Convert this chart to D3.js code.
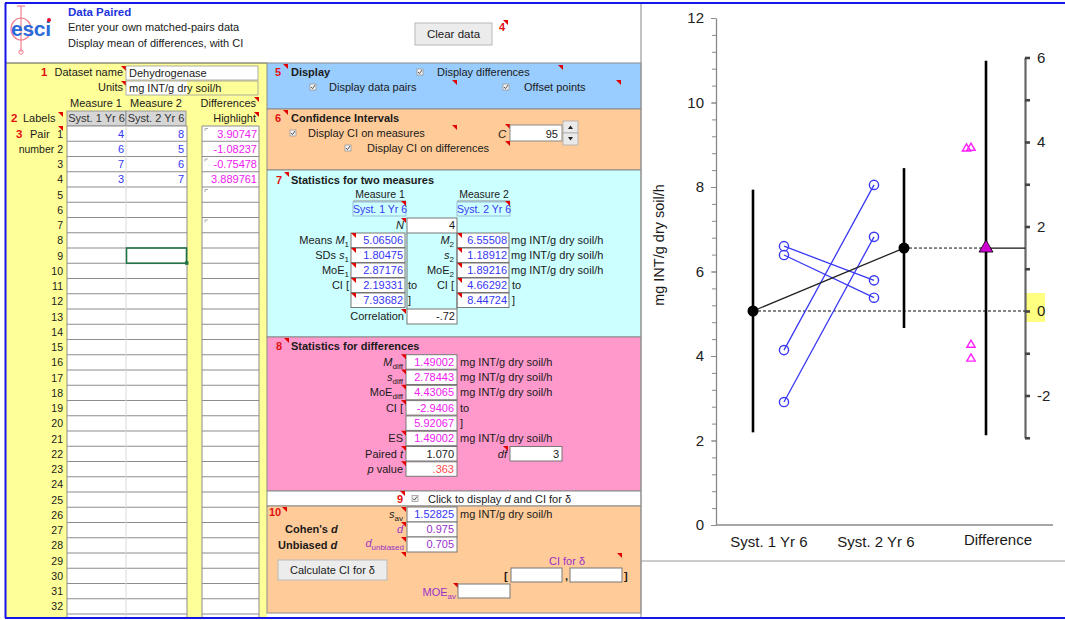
<!DOCTYPE html>
<html>
<head>
<meta charset="utf-8">
<script src="https://cdn.jsdelivr.net/npm/d3@7"></script>
<style>
body { margin: 0; background: #fff; }
svg { display: block; font-family: "Liberation Sans", Arial, sans-serif; }
</style>
</head>
<body>
<svg id="sheet" width="1065" height="620"></svg>
<script>
// ---- data ----
const datasetName = "Dehydrogenase";
const units = "mg INT/g dry soil/h";
const groupLabels = ["Syst. 1 Yr 6", "Syst. 2 Yr 6", "Difference"];

// what the table shows
const measure1Shown = ["4", "6", "7", "3"];
const measure2Shown = ["8", "5", "6", "7"];
const diffShown = ["3.90747", "-1.08237", "-0.75478", "3.889761"];

// plotted pairs
const measure1 = [4.14, 6.39, 6.60, 2.91];
const measure2 = [8.05, 5.38, 5.79, 6.82];
const differences = [3.90747, -1.08237, -0.75478, 3.889761];

const means = [5.06506, 6.55508];
const ciLower = [2.19331, 4.66292];
const ciUpper = [7.93682, 8.44724];
const meanDiff = 1.49002;
const ciDiff = [-2.9406, 5.92067];

const leftTicks = [0, 2, 4, 6, 8, 10, 12];
const rightTicks = [-3, -2, -1, 0, 1, 2, 3, 4, 5, 6];

const m1Stats = ["5.06506", "1.80475", "2.87176", "2.19331", "7.93682"];
const m2Stats = ["6.55508", "1.18912", "1.89216", "4.66292", "8.44724"];
const diffStats = ["1.49002", "2.78443", "4.43065", "-2.9406", "5.92067", "1.49002"];

const svg = d3.select("#sheet");
const RED = "#e31010", BLUE = "#3636f5", MAG = "#f020f0", PURP = "#9b30c8";

function T(g, x, y, s, o = {}) {
  const t = g.append("text").attr("x", x).attr("y", y)
    .attr("font-size", o.size || 11).attr("fill", o.fill || "#1a1a1a")
    .attr("text-anchor", o.anchor || "start");
  if (o.bold) t.attr("font-weight", "bold");
  if (o.italic) t.attr("font-style", "italic");
  if (Array.isArray(s)) {
    s.forEach(p => {
      const ts = t.append("tspan").text(p.t);
      if (p.i) ts.attr("font-style", "italic");
      if (p.sub) ts.attr("font-size", 8).attr("dy", 3);
      if (p.fill) ts.attr("fill", p.fill);
    });
  } else t.text(s);
  return t;
}
function R(g, x, y, w, h, fill, stroke, sw) {
  return g.append("rect").attr("x", x).attr("y", y).attr("width", w).attr("height", h)
    .attr("fill", fill || "none").attr("stroke", stroke || "none").attr("stroke-width", sw || 1);
}
function F(g, x, y) {
  g.append("path").attr("d", `M${x - 5},${y}L${x},${y}L${x},${y + 5}Z`).attr("fill", "#e00000");
}
function CB(g, x, y) {
  R(g, x - 3, y - 3, 6, 6, "#f2f2f2", "#9a9a9a", 0.8);
  g.append("path").attr("d", `M${x - 2},${y}L${x - 0.5},${y + 1.6}L${x + 2},${y - 2}`)
    .attr("fill", "none").attr("stroke", "#444").attr("stroke-width", 0.9);
}
function L(g, x1, y1, x2, y2, c, w) {
  g.append("line").attr("x1", x1).attr("y1", y1).attr("x2", x2).attr("y2", y2)
    .attr("stroke", c || "#8a8a8a").attr("stroke-width", w || 1);
}

// ---- header ----
const head = svg.append("g");
head.append("line").attr("x1", 21).attr("y1", 6).attr("x2", 21).attr("y2", 52).attr("stroke", "#f08090").attr("stroke-width", 1.2);
head.append("line").attr("x1", 17).attr("y1", 6).attr("x2", 25).attr("y2", 6).attr("stroke", "#f08090").attr("stroke-width", 1.2);
head.append("circle").attr("cx", 21).attr("cy", 52).attr("r", 2.2).attr("fill", "none").attr("stroke", "#f08090");
head.append("ellipse").attr("cx", 21).attr("cy", 29).attr("rx", 10).attr("ry", 11).attr("fill", "none").attr("stroke", "#f08090").attr("stroke-width", 1.2);
T(head, 11, 36, "esci", { size: 21, fill: "#2a6ad8", bold: true }).attr("textLength", 40);
head.append("circle").attr("cx", 49).attr("cy", 20).attr("r", 2).attr("fill", "#e8102a");
T(head, 68, 16, "Data Paired", { bold: true, fill: "#2233dd", size: 11.5 });
T(head, 68, 31, "Enter your own matched-pairs data", { size: 11 });
T(head, 68, 47, "Display mean of differences, with CI", { size: 11 });

R(head, 415, 23, 77, 22, "#ececec", "#b8b8b8");
T(head, 453.5, 38, "Clear data", { anchor: "middle", size: 11.5 });
T(head, 499, 31, "4", { fill: RED, bold: true, size: 11 });
F(head, 508, 20);

// ---- left data panel ----
const left = svg.append("g");
R(left, 5, 63, 262, 555, "#ffff99");
L(left, 5, 63, 267, 63, "#555", 1);
T(left, 41, 76, "1", { fill: RED, bold: true, size: 11.5 });
T(left, 123, 76, "Dataset name", { anchor: "end" });
F(left, 126, 66);
R(left, 126, 66, 132, 14, "#fff", "#999", 0.8);
T(left, 129, 77, datasetName);
T(left, 123, 91, "Units", { anchor: "end" });
F(left, 126, 81);
R(left, 126, 81, 61, 14, "#fff");
R(left, 126, 81, 132, 14, "none", "#999", 0.8);
T(left, 129, 92, units);
T(left, 96, 107, "Measure 1", { anchor: "middle" });
T(left, 156, 107, "Measure 2", { anchor: "middle" });
T(left, 256, 107, "Differences", { anchor: "end" });
F(left, 259, 97);
T(left, 11, 122, "2", { fill: RED, bold: true, size: 11.5 });
T(left, 23, 122, "Labels");
F(left, 63, 112);
R(left, 67, 111, 59, 15, "#d6d6d6", "#888", 0.8);
R(left, 126, 111, 60, 15, "#d6d6d6", "#888", 0.8);
T(left, 96.5, 122, groupLabels[0], { anchor: "middle", fill: "#333" });
T(left, 156, 122, groupLabels[1], { anchor: "middle", fill: "#333" });
T(left, 256, 122, "Highlight", { anchor: "end" });
F(left, 259, 112);

const rowTop = n => 126 + (n - 1) * 15.25;
R(left, 67, 126, 120, 492, "#fff");
R(left, 202, 126, 57, 492, "#fff");
d3.range(1, 34).forEach(n => {
  const y0 = rowTop(n);
  L(left, 67, y0, 187, y0, "#8c8c8c", 1.1);
  L(left, 202, y0, 259, y0, "#8c8c8c", 1.1);
  if (n > 32) return;
  const lab = n === 1 ? "1" : n === 2 ? "number 2" : String(n);
  T(left, 63, y0 + 11.5, lab, { anchor: "end", size: 10.5 });
});
L(left, 126, 126, 126, 618, "#d8d8d8", 1);
L(left, 67, 126, 67, 618, "#8c8c8c", 1);
L(left, 187, 126, 187, 618, "#8c8c8c", 1);
L(left, 202, 126, 202, 618, "#8c8c8c", 1);
L(left, 259, 126, 259, 618, "#8c8c8c", 1);
T(left, 16, 137.5, "3", { fill: RED, bold: true, size: 11.5 });
T(left, 30, 137.5, "Pair", { size: 11 });
F(left, 63, 126);
measure1Shown.forEach((v, i) => T(left, 124, rowTop(i + 1) + 11.5, v, { anchor: "end", fill: BLUE }));
measure2Shown.forEach((v, i) => T(left, 184, rowTop(i + 1) + 11.5, v, { anchor: "end", fill: BLUE }));
diffShown.forEach((v, i) => T(left, 257, rowTop(i + 1) + 11.5, v, { anchor: "end", fill: MAG }));
[1, 3, 5, 7].forEach(n => {
  const y0 = rowTop(n);
  left.append("path").attr("d", `M205,${y0 + 5}V${y0 + 2.5}H208`).attr("fill", "none").attr("stroke", "#999").attr("stroke-width", 0.8);
});
R(left, 126.5, rowTop(9), 60, 15.25, "none", "#217346", 1.6);
R(left, 185, rowTop(10) - 2, 3.5, 3.5, "#217346");

// ---- middle panels ----
const mid = svg.append("g");
R(mid, 267, 63, 374, 46, "#99ccff", "#8a8a8a", 1);
R(mid, 267, 109, 374, 61, "#ffcc99", "#8a8a8a", 1);
R(mid, 267, 170, 374, 167, "#ccffff", "#8a8a8a", 1);
R(mid, 267, 337, 374, 154, "#ff99cc", "#8a8a8a", 1);
R(mid, 267, 491, 374, 15, "#ffffff", "#8a8a8a", 1);
R(mid, 267, 506, 374, 107, "#ffcc99", "#8a8a8a", 1);

// panel 5
T(mid, 275, 76, "5", { fill: RED, bold: true });
F(mid, 288, 64);
T(mid, 291, 76, "Display", { bold: true });
CB(mid, 420, 72); T(mid, 437, 76, "Display differences");
F(mid, 563, 65);
CB(mid, 313, 87); T(mid, 329, 91, "Display data pairs");
F(mid, 457, 80);
CB(mid, 506, 87); T(mid, 524, 91, "Offset points");
F(mid, 621, 80);

// panel 6
T(mid, 275, 122, "6", { fill: RED, bold: true });
F(mid, 288, 110);
T(mid, 291, 122, "Confidence Intervals", { bold: true });
CB(mid, 293, 133); T(mid, 308, 137, "Display CI on measures");
F(mid, 457, 125);
T(mid, 498, 138, "C", { italic: true, size: 11.5 });
F(mid, 510, 124);
R(mid, 510, 125, 52, 16, "#fff", "#888");
T(mid, 558, 137.5, "95", { anchor: "end" });
R(mid, 563, 121, 15, 12, "#eaeaea", "#aaa", 0.8);
R(mid, 563, 133, 15, 12, "#eaeaea", "#aaa", 0.8);
mid.append("path").attr("d", "M568,129L570.5,125.5L573,129Z").attr("fill", "#222");
mid.append("path").attr("d", "M568,137L570.5,140.5L573,137Z").attr("fill", "#222");
CB(mid, 348, 148); T(mid, 367, 152, "Display CI on differences");
F(mid, 510, 141);

// panel 7
T(mid, 276, 184, "7", { fill: RED, bold: true });
F(mid, 289, 172);
T(mid, 291, 184, "Statistics for two measures", { bold: true });
T(mid, 380, 198, "Measure 1", { anchor: "middle", size: 10.5 });
T(mid, 484, 198, "Measure 2", { anchor: "middle", size: 10.5 });
L(mid, 353, 201, 406, 201, "#8a8a8a");
L(mid, 457, 201, 510, 201, "#8a8a8a");
R(mid, 353, 202, 53, 14, "#ccffff", "#8fb0d0", 0.8);
R(mid, 457, 202, 53, 14, "#ccffff", "#8fb0d0", 0.8);
T(mid, 380, 213, groupLabels[0], { anchor: "middle", fill: BLUE, size: 10.5 });
T(mid, 484, 213, groupLabels[1], { anchor: "middle", fill: BLUE, size: 10.5 });
F(mid, 406, 201); F(mid, 510, 201);
T(mid, 404, 229, "N", { anchor: "end", italic: true });
F(mid, 406, 218);
R(mid, 407, 218, 50, 15, "#fff", "#777");
T(mid, 455, 229, "4", { anchor: "end" });
const r7 = [240, 255, 270, 285, 300];
const lab7a = [
  [{ t: "Means " }, { t: "M", i: true }, { t: "1", sub: true }],
  [{ t: "SDs " }, { t: "s", i: true }, { t: "1", sub: true }],
  [{ t: "MoE" }, { t: "1", sub: true }],
  [{ t: "CI [" }],
  []
];
const lab7b = [
  [{ t: "M", i: true }, { t: "2", sub: true }],
  [{ t: "s", i: true }, { t: "2", sub: true }],
  [{ t: "MoE" }, { t: "2", sub: true }],
  [{ t: "CI [" }],
  []
];
r7.forEach((cy, i) => {
  T(mid, 349, cy + 4, lab7a[i], { anchor: "end" });
  T(mid, 454, cy + 4, lab7b[i], { anchor: "end" });
  R(mid, 351, cy - 7, 54, 14.5, "#fff", "#777");
  R(mid, 457, cy - 7, 52, 14.5, "#fff", "#777");
  T(mid, 403, cy + 4, m1Stats[i], { anchor: "end", fill: BLUE });
  T(mid, 507, cy + 4, m2Stats[i], { anchor: "end", fill: BLUE });
  F(mid, 356, cy - 7); F(mid, 462, cy - 7);
  if (i < 3) T(mid, 511, cy + 4, units);
  if (i === 3) { T(mid, 408, cy + 4, "to"); T(mid, 512, cy + 4, "to"); }
  if (i === 4) { T(mid, 408, cy + 4, "]"); T(mid, 512, cy + 4, "]"); }
});
L(mid, 407, 233, 407, 309, "#777"); L(mid, 457, 233, 457, 309, "#777");
T(mid, 404, 320, "Correlation", { anchor: "end" });
F(mid, 406, 309);
R(mid, 407, 309, 50, 15, "#fff", "#777");
T(mid, 455, 320, "-.72", { anchor: "end" });

// panel 8
T(mid, 276, 350, "8", { fill: RED, bold: true });
F(mid, 289, 338);
T(mid, 291, 350, "Statistics for differences", { bold: true });
const lab8 = [
  [{ t: "M", i: true }, { t: "diff", sub: true }],
  [{ t: "s", i: true }, { t: "diff", sub: true }],
  [{ t: "MoE" }, { t: "diff", sub: true }],
  [{ t: "CI [" }],
  [],
  [{ t: "ES" }],
  [{ t: "Paired " }, { t: "t", i: true }],
  [{ t: "p", i: true }, { t: " value" }]
];
d3.range(8).forEach(i => {
  const cy = 361.7 + i * 15.3;
  T(mid, 403, cy + 4, lab8[i], { anchor: "end" });
  R(mid, 406, cy - 7, 51, 14.5, "#fff", "#777");
  if (i !== 4) F(mid, 406, cy - 7.5);
  let v, c = MAG;
  if (i < 6) v = diffStats[i];
  else if (i === 6) { v = "1.070"; c = "#1a1a1a"; }
  else { v = ".363"; c = "#ff4a4a"; }
  T(mid, 454, cy + 4, v, { anchor: "end", fill: c });
  if ([0, 1, 2, 5].includes(i)) T(mid, 460, cy + 4, units);
  if (i === 3) T(mid, 460, cy + 4, "to");
  if (i === 4) T(mid, 460, cy + 4, "]");
  if (i === 6) {
    T(mid, 507, cy + 4, "df", { anchor: "end", italic: true });
    F(mid, 508, cy - 7.5);
    R(mid, 510, cy - 7, 52, 14.5, "#fff", "#777");
    T(mid, 559, cy + 4, "3", { anchor: "end" });
  }
});

// panel 9
T(mid, 397, 503, "9", { fill: RED, bold: true });
F(mid, 405, 491);
CB(mid, 415, 498.5);
T(mid, 428, 503, [{ t: "Click to display " }, { t: "d", i: true }, { t: " and CI for δ" }]);

// panel 10
T(mid, 269, 516, "10", { fill: RED, bold: true });
F(mid, 287, 507);
T(mid, 403, 518, [{ t: "s", i: true }, { t: "av", sub: true }], { anchor: "end" });
F(mid, 406, 507);
R(mid, 407, 507, 50, 15, "#fff", "#777");
T(mid, 454, 518, "1.52825", { anchor: "end", fill: BLUE });
T(mid, 460, 518, units);
T(mid, 285, 533, [{ t: "Cohen's " }, { t: "d", i: true }], { bold: true });
T(mid, 403, 533, [{ t: "d", i: true }], { anchor: "end", fill: PURP });
F(mid, 406, 522);
R(mid, 407, 522, 50, 15, "#fff", "#777");
T(mid, 454, 533, "0.975", { anchor: "end", fill: PURP });
T(mid, 278, 549, [{ t: "Unbiased " }, { t: "d", i: true }], { bold: true });
T(mid, 404, 547, [{ t: "d", i: true }, { t: "unbiased", sub: true }], { anchor: "end", fill: PURP });
F(mid, 406, 537);
R(mid, 407, 537, 50, 15, "#fff", "#777");
T(mid, 454, 548, "0.705", { anchor: "end", fill: PURP });
F(mid, 406, 552);
R(mid, 278, 560, 109, 20, "#ececec", "#b8b8b8");
T(mid, 332.5, 574, "Calculate CI for δ", { anchor: "middle" });
T(mid, 567, 565, "CI for δ", { anchor: "middle", fill: PURP });
F(mid, 622, 553);
T(mid, 504, 580, "[", { bold: true });
R(mid, 511, 568, 51, 14, "#fff", "#777");
T(mid, 565, 580, ",", { bold: true });
R(mid, 570, 568, 52, 14, "#fff", "#777");
T(mid, 624, 580, "]", { bold: true });
T(mid, 456, 596, [{ t: "MOE" }, { t: "av", sub: true }], { anchor: "end", fill: PURP });
F(mid, 458, 583);
R(mid, 458, 584, 52, 14, "#fff", "#777");

// ---- chart ----
const chart = svg.append("g");
L(chart, 641, 4, 641, 618, "#9a9a9a", 1.2);
L(chart, 641, 561, 1065, 561, "#9a9a9a", 1.2);

const X = { axis: 716, end: 1053, m1: 753, m2: 904, p1: 784, p2: 874, diff: 986, dpts: 971, raxis: 1025 };
const y = d3.scaleLinear().domain([0, 12]).range([525, 18]);
const yr = d3.scaleLinear().domain([-3, 6]).range([y(means[0] - 3), y(means[0] + 6)]);

R(chart, 1026, 293, 19, 29, "#ffff80");

const gMinor = chart.append("g").attr("transform", `translate(${X.axis},0)`)
  .call(d3.axisLeft(y).tickValues(d3.range(0, 12.001, 0.4)).tickSize(4).tickFormat(""));
gMinor.select(".domain").remove();
const gL = chart.append("g").attr("transform", `translate(${X.axis},0)`)
  .call(d3.axisLeft(y).tickValues(leftTicks).tickSize(5).tickPadding(7).tickSizeOuter(0));
chart.selectAll(".tick line").attr("stroke", "#8a8a8a");
gL.select(".domain").attr("stroke", "#8a8a8a").attr("stroke-width", 1.3);
gL.selectAll("text").attr("font-size", 15).attr("fill", "#222").attr("font-family", "Liberation Sans, Arial");
L(chart, X.axis, 525, X.end, 525, "#8a8a8a", 1.3);

const gR = chart.append("g").attr("transform", `translate(${X.raxis},0)`)
  .call(d3.axisRight(yr).tickValues(rightTicks).tickSize(5).tickPadding(7).tickSizeOuter(0)
    .tickFormat(d => d % 2 === 0 ? d : ""));
gR.select(".domain").attr("stroke", "#666").attr("stroke-width", 2.2);
gR.selectAll(".tick line").attr("stroke", "#444").attr("stroke-width", 2.6);
gR.selectAll("text").attr("font-size", 15).attr("fill", "#222").attr("font-family", "Liberation Sans, Arial");

T(chart, 0, 0, units, { anchor: "middle", size: 14.5 }).attr("transform", "translate(664,245) rotate(-90)");
T(chart, 769, 547, groupLabels[0], { anchor: "middle", size: 15 });
T(chart, 876, 547, groupLabels[1], { anchor: "middle", size: 15 });
T(chart, 998, 545, groupLabels[2], { anchor: "middle", size: 15 });

// reference lines
chart.append("line").attr("x1", X.m1).attr("x2", X.raxis).attr("y1", y(means[0])).attr("y2", y(means[0]))
  .attr("stroke", "#111").attr("stroke-dasharray", "3,2");
chart.append("line").attr("x1", X.m2).attr("x2", X.diff).attr("y1", y(means[1])).attr("y2", y(means[1]))
  .attr("stroke", "#111").attr("stroke-dasharray", "3,2");
L(chart, X.diff, y(means[1]), X.raxis, y(means[1]), "#111", 1.3);

// paired data
const pairs = measure1.map((a, i) => ({ a, b: measure2[i] }));
chart.selectAll(".pair").data(pairs).enter().append("line").attr("class", "pair")
  .attr("x1", X.p1).attr("y1", d => y(d.a)).attr("x2", X.p2).attr("y2", d => y(d.b))
  .attr("stroke", "#3a3af5").attr("stroke-width", 1.3);
chart.selectAll(".pt1").data(measure1).enter().append("circle").attr("class", "pt1")
  .attr("cx", X.p1).attr("cy", d => y(d)).attr("r", 4.6)
  .attr("fill", "none").attr("stroke", "#3a3af5").attr("stroke-width", 1.4);
chart.selectAll(".pt2").data(measure2).enter().append("circle").attr("class", "pt2")
  .attr("cx", X.p2).attr("cy", d => y(d)).attr("r", 4.6)
  .attr("fill", "none").attr("stroke", "#3a3af5").attr("stroke-width", 1.4);

// CIs and means
const grp = [X.m1, X.m2];
chart.selectAll(".ci").data(means).enter().append("line").attr("class", "ci")
  .attr("x1", (d, i) => grp[i]).attr("x2", (d, i) => grp[i])
  .attr("y1", (d, i) => y(ciLower[i])).attr("y2", (d, i) => y(ciUpper[i]))
  .attr("stroke", "#000").attr("stroke-width", 2.6);
chart.append("line").attr("x1", X.m1).attr("y1", y(means[0])).attr("x2", X.m2).attr("y2", y(means[1]))
  .attr("stroke", "#222").attr("stroke-width", 1.3);
chart.selectAll(".mean").data(means).enter().append("circle").attr("class", "mean")
  .attr("cx", (d, i) => grp[i]).attr("cy", d => y(d)).attr("r", 5.5).attr("fill", "#000");

// differences
const yd = v => y(means[0] + v);
chart.append("line").attr("x1", X.diff).attr("x2", X.diff).attr("y1", yd(ciDiff[0])).attr("y2", yd(ciDiff[1]))
  .attr("stroke", "#000").attr("stroke-width", 2.6);
// points that nearly coincide are shifted sideways
const offs = differences.map((d, i) =>
  differences.slice(0, i).some(p => Math.abs(p - d) < 0.1) ? -4.5 : 0);
chart.selectAll(".dpt").data(differences).enter().append("path").attr("class", "dpt")
  .attr("d", d3.symbol(d3.symbolTriangle, 30))
  .attr("transform", (d, i) => `translate(${X.dpts + offs[i]},${yd(d) + 2})`)
  .attr("fill", "none").attr("stroke", "#ff20ff").attr("stroke-width", 1.4);
chart.append("path").attr("d", d3.symbol(d3.symbolTriangle, 85))
  .attr("transform", `translate(${X.diff},${yd(meanDiff)})`)
  .attr("fill", "#d000d0").attr("stroke", "#000").attr("stroke-width", 0.8);

// ---- outer blue frame ----
L(svg, 5, 3, 1065, 3, "#1515e8", 2);
L(svg, 5.5, 3, 5.5, 618, "#1515e8", 2);
L(svg, 5, 618, 1065, 618, "#1515e8", 2);
</script>
</body>
</html>
